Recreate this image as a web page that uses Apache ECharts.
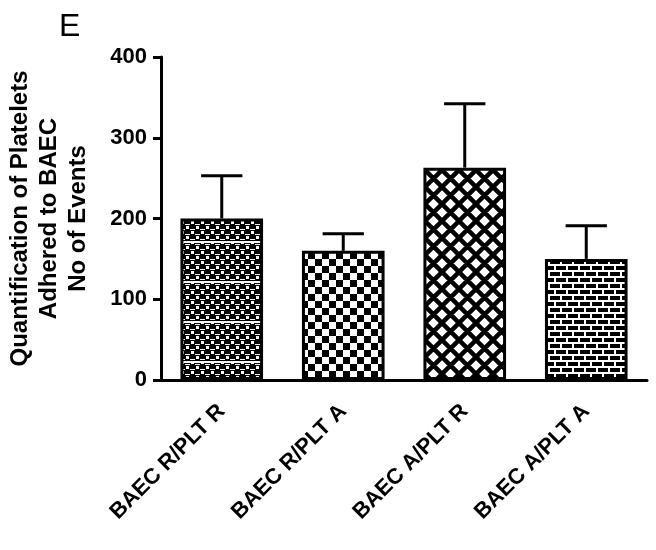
<!DOCTYPE html>
<html>
<head>
<meta charset="utf-8">
<script src="https://cdn.jsdelivr.net/npm/echarts@6/dist/echarts.min.js"></script>
<style>
  html, body { margin: 0; padding: 0; background: #fff; }
  #main { width: 656px; height: 550px; }
</style>
</head>
<body>
<div id="main"></div>
<script>
let categories = ['BAEC R/PLT R', 'BAEC R/PLT A', 'BAEC A/PLT R', 'BAEC A/PLT A'];
let means = [200, 160, 263, 150];
let errors = [53, 21, 79, 41];
let yTicks = [0, 100, 200, 300, 400];

const FONT = '"Liberation Sans", Arial, sans-serif';

function makePattern(size, draw) {
    let c = document.createElement('canvas');
    c.width = size[0];
    c.height = size[1];
    let ctx = c.getContext('2d');
    ctx.fillStyle = '#fff';
    ctx.fillRect(0, 0, size[0], size[1]);
    ctx.fillStyle = '#000';
    ctx.strokeStyle = '#000';
    draw(ctx);
    return { image: c, repeat: 'repeat' };
}

// dense grid / checker mix
let pat1 = makePattern([10, 40], function (ctx) {
    ctx.fillRect(0, 0, 10, 40);
    ctx.fillStyle = '#fff';
    for (let r = 0; r < 8; r++) {
        for (let k = 0; k < 2; k++) {
            if ((r + k) % 2 === 0) ctx.fillRect(k * 5 + 1, r * 5 + 1, 3, 3);
            else ctx.fillRect(k * 5, r * 5 + 4, 5, 1);
        }
    }
    ctx.fillRect(0, 1, 10, 2);
});

// checkerboard
let pat2 = makePattern([14, 14], function (ctx) {
    ctx.fillRect(0, 0, 7, 7);
    ctx.fillRect(7, 7, 7, 7);
});

// diamond cross-hatch
let pat3 = makePattern([17, 17], function (ctx) {
    ctx.lineWidth = 4.5;
    ctx.beginPath();
    for (let o = -17; o <= 34; o += 17) {
        ctx.moveTo(o, 0); ctx.lineTo(o + 17, 17);
        ctx.moveTo(o + 17, 0); ctx.lineTo(o, 17);
    }
    ctx.stroke();
});

// brick
let pat4 = makePattern([24, 12], function (ctx) {
    ctx.fillRect(0, 0, 24, 12);
    ctx.fillStyle = '#fff';
    ctx.fillRect(0, 0, 24, 2);
    ctx.fillRect(0, 6, 24, 2);
    ctx.fillRect(2, 2, 2, 4);
    ctx.fillRect(14, 2, 2, 4);
    ctx.fillRect(8, 8, 2, 4);
    ctx.fillRect(20, 8, 2, 4);
});

let patterns = [pat1, pat2, pat3, pat4];

let myChart = echarts.init(document.getElementById('main'));

let option = {
    animation: false,
    backgroundColor: '#fff',
    title: {
        text: 'E',
        left: 54,
        top: 6,
        textStyle: { fontFamily: FONT, fontSize: 32, fontWeight: 'normal', color: '#000' }
    },
    grid: {
        left: 161,
        right: 9,
        top: 57,
        bottom: 170,
        outerBoundsMode: 'none'
    },
    xAxis: {
        type: 'category',
        data: categories,
        axisLine: { lineStyle: { color: '#000', width: 3 } },
        axisTick: { alignWithLabel: true, length: 10, lineStyle: { color: '#000', width: 3 } },
        axisLabel: {
            rotate: 45,
            margin: 28,
            fontFamily: FONT,
            fontSize: 22,
            fontWeight: 'bold',
            color: '#000'
        }
    },
    yAxis: {
        type: 'value',
        min: 0,
        max: 400,
        interval: 100,
        name: 'Quantification of Platelets\nAdhered to BAEC\nNo of Events',
        nameLocation: 'middle',
        nameRotate: 90,
        nameGap: 68,
        nameTextStyle: {
            fontFamily: FONT,
            fontSize: 24,
            fontWeight: 'bold',
            color: '#000',
            lineHeight: 29,
            align: 'center'
        },
        splitLine: { show: false },
        axisLine: { show: true, lineStyle: { color: '#000', width: 3 } },
        axisTick: { show: true, length: 8, lineStyle: { color: '#000', width: 3 } },
        axisLabel: {
            margin: 14,
            fontFamily: FONT,
            fontSize: 22,
            fontWeight: 'bold',
            color: '#000',
            formatter: function (v) {
                return yTicks.indexOf(v) >= 0 ? String(v) : '';
            }
        }
    },
    series: [
        {
            type: 'bar',
            barWidth: '68%',
            data: means.map(function (v, i) {
                return {
                    value: v,
                    itemStyle: { color: patterns[i], borderColor: '#000', borderWidth: 3 }
                };
            }),
            z: 2
        },
        {
            type: 'custom',
            data: means.map(function (v, i) { return [i, v, v + errors[i]]; }),
            renderItem: function (params, api) {
                let base = api.coord([api.value(0), api.value(1)]);
                let top = api.coord([api.value(0), api.value(2)]);
                let half = api.size([1, 0])[0] * 0.17;
                let style = { stroke: '#000', lineWidth: 3 };
                return {
                    type: 'group',
                    children: [
                        { type: 'line', shape: { x1: base[0], y1: base[1], x2: top[0], y2: top[1] }, style: style },
                        { type: 'line', shape: { x1: top[0] - half, y1: top[1], x2: top[0] + half, y2: top[1] }, style: style }
                    ]
                };
            },
            z: 3
        }
    ]
};

myChart.setOption(option);
</script>
</body>
</html>
